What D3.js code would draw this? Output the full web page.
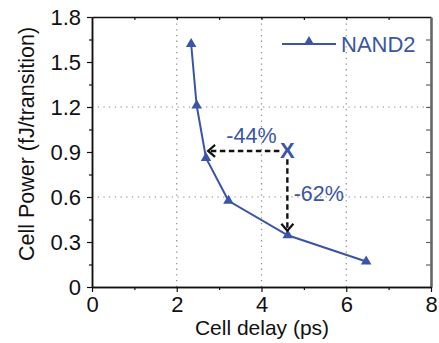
<!DOCTYPE html>
<html>
<head>
<meta charset="utf-8">
<script src="https://d3js.org/d3.v7.min.js"></script>
<style>
  body { margin: 0; background: white; }
  text { font-family: "Liberation Sans", Arial, sans-serif; }
</style>
</head>
<body>
<div id="chart"></div>
<script>
// data
cellDelay = [2.34, 2.47, 2.69, 3.22, 4.62, 6.47]
cellPower = [1.62, 1.21, 0.86, 0.575, 0.345, 0.17]
seriesName = 'NAND2'

xTicks = [0, 2, 4, 6, 8]
yTicks = [0, 0.3, 0.6, 0.9, 1.2, 1.5, 1.8]
xGrid = [2, 4, 6]
yGrid = [0.6, 1.2]

// the "X" target and its two arrows
target = {x: 4.61, y: 0.912}
arrowLeftTo = 2.74
arrowDownTo = 0.375
labels = [{text: '-44%', x: 3.17, y: 0.96}, {text: '-62%', x: 4.76, y: 0.575}]

width = 439
height = 343
blue = '#3a55a6'

svg = d3.select('#chart')
  .append('svg')
  .attr('width', width)
  .attr('height', height)

xScale = d3.scaleLinear().domain([0, 8]).range([92, 431])
yScale = d3.scaleLinear().domain([0, 1.8]).range([287, 17])

///// grid
svg.append('g')
  .selectAll('line')
  .data(xGrid)
  .join('line')
  .attr('x1', d => xScale(d)).attr('x2', d => xScale(d))
  .attr('y1', yScale(0)).attr('y2', yScale(1.8))
  .attr('stroke', '#8a8a8a').attr('stroke-width', 1.2)
  .attr('stroke-dasharray', '1.3,4.4')

svg.append('g')
  .selectAll('line')
  .data(yGrid)
  .join('line')
  .attr('x1', xScale(0)).attr('x2', xScale(8))
  .attr('y1', d => yScale(d)).attr('y2', d => yScale(d))
  .attr('stroke', '#8a8a8a').attr('stroke-width', 1.2)
  .attr('stroke-dasharray', '1.3,4.4')

///// axes
xAxis = d3.axisBottom(xScale).tickValues(xTicks).tickSize(5).tickSizeOuter(0).tickPadding(4)
xMinor = d3.axisBottom(xScale).tickValues([1, 3, 5, 7]).tickSize(3).tickSizeOuter(0).tickFormat('')
yAxis = d3.axisLeft(yScale).tickValues(yTicks).tickSize(5).tickSizeOuter(0).tickPadding(6)
  .tickFormat(d => d === 0 ? '0' : d3.format('.1f')(d))
yMinor = d3.axisLeft(yScale).tickValues([0.15, 0.45, 0.75, 1.05, 1.35, 1.65]).tickSize(3).tickSizeOuter(0).tickFormat('')
topAxis = d3.axisBottom(xScale).tickValues([1, 2, 3, 4, 5, 6, 7]).tickSize(3).tickSizeOuter(0).tickFormat('')
rightAxis = d3.axisLeft(yScale).tickValues(d3.range(1, 12).map(i => i * 0.15)).tickSize(5).tickSizeOuter(0).tickFormat('')

function styleAxis(g, color, w) {
  g.selectAll('path').attr('stroke', color).attr('stroke-width', w)
  g.selectAll('line').attr('stroke', color).attr('stroke-width', 1.2)
  g.selectAll('text').attr('font-size', '22px').attr('fill', '#111')
    .attr('font-family', '"Liberation Sans", Arial, sans-serif')
}

svg.append('g').attr('transform', `translate(0 ${yScale(1.8)})`).call(topAxis).call(styleAxis, '#111', 1.5)
svg.append('g').attr('transform', `translate(${xScale(8)} 0)`).call(rightAxis).call(styleAxis, '#666', 2.6)
svg.append('g').attr('transform', `translate(0 ${yScale(0)})`).call(xMinor).call(styleAxis, '#111', 1.5)
svg.append('g').attr('transform', `translate(0 ${yScale(0)})`).call(xAxis).call(styleAxis, '#111', 1.5)
svg.append('g').attr('transform', `translate(${xScale(0)} 0)`).call(yMinor).call(styleAxis, '#111', 1.5)
svg.append('g').attr('transform', `translate(${xScale(0)} 0)`).call(yAxis).call(styleAxis, '#111', 1.5)

// axis titles
svg.append('text')
  .attr('x', 262).attr('y', 335)
  .attr('text-anchor', 'middle')
  .attr('font-size', '21px').attr('fill', '#111')
  .text('Cell delay (ps)')

svg.append('text')
  .attr('transform', 'translate(34 144) rotate(-90)')
  .attr('text-anchor', 'middle')
  .attr('font-size', '21.5px').attr('fill', '#111')
  .text('Cell Power (fJ/transition)')

///// series
points = cellDelay.map((d, i) => ({x: d, y: cellPower[i]}))
triangle = d3.symbol().type(d3.symbolTriangle).size(48)

svg.append('path')
  .datum(points)
  .attr('fill', 'none')
  .attr('stroke', blue)
  .attr('stroke-width', 2)
  .attr('d', d3.line().x(d => xScale(d.x)).y(d => yScale(d.y)))

svg.append('g')
  .selectAll('path')
  .data(points)
  .join('path')
  .attr('d', triangle)
  .attr('transform', d => `translate(${xScale(d.x)} ${yScale(d.y)})`)
  .attr('fill', blue)

///// dashed arrows
arrows = [
  {x1: target.x, y1: target.y - 0.005, x2: arrowLeftTo, y2: target.y - 0.005, dir: 'left'},
  {x1: target.x, y1: target.y, x2: target.x, y2: arrowDownTo, dir: 'down'}
]

svg.append('g')
  .selectAll('line')
  .data(arrows)
  .join('line')
  .attr('x1', d => xScale(d.x1) + (d.dir === 'left' ? -8 : 0))
  .attr('y1', d => yScale(d.y1) + (d.dir === 'down' ? 9 : 0))
  .attr('x2', d => xScale(d.x2))
  .attr('y2', d => yScale(d.y2))
  .attr('stroke', '#111').attr('stroke-width', 2.4)
  .attr('stroke-dasharray', '5.5,3.5')

svg.append('g')
  .selectAll('path')
  .data(arrows)
  .join('path')
  .attr('d', d => {
    tx = xScale(d.x2); ty = yScale(d.y2)
    if (d.dir === 'left') return `M${tx + 7},${ty - 6}L${tx},${ty}L${tx + 7},${ty + 6}`
    return `M${tx - 6},${ty - 7}L${tx},${ty}L${tx + 6},${ty - 7}`
  })
  .attr('fill', 'none')
  .attr('stroke', '#111').attr('stroke-width', 2.2)

svg.append('text')
  .attr('x', xScale(target.x)).attr('y', yScale(target.y) + 8)
  .attr('text-anchor', 'middle')
  .attr('font-size', '22px').attr('font-weight', 'bold')
  .attr('fill', blue)
  .text('X')

svg.append('g')
  .selectAll('text')
  .data(labels)
  .join('text')
  .attr('x', d => xScale(d.x)).attr('y', d => yScale(d.y))
  .attr('font-size', '21.5px').attr('fill', blue)
  .text(d => d.text)

///// legend
svg.append('line')
  .attr('x1', 282).attr('x2', 336).attr('y1', 44).attr('y2', 44)
  .attr('stroke', blue).attr('stroke-width', 2.2)
svg.append('path')
  .attr('d', triangle)
  .attr('transform', 'translate(309 42)')
  .attr('fill', blue)
svg.append('text')
  .attr('x', 341).attr('y', 52)
  .attr('font-size', '22px').attr('fill', blue)
  .text(seriesName)
</script>
</body>
</html>
